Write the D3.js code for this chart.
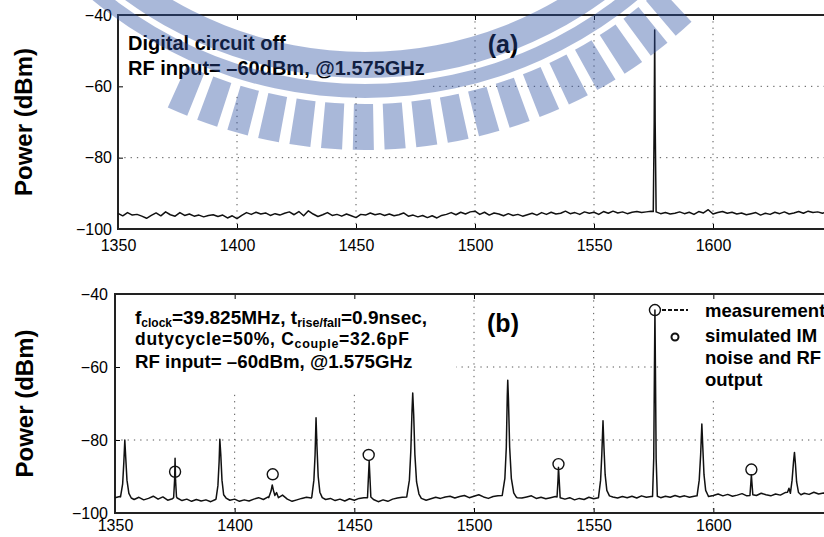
<!DOCTYPE html>
<meta charset="utf-8">

<!-- Load d3.js -->
<script src="https://d3js.org/d3.v7.min.js"></script>

<style>
  body { margin: 0; background: #fff; }
  svg { display: block; font-family: "Liberation Sans", Arial, Helvetica, sans-serif; }
</style>

<!-- Create a div where the graph will take place -->
<div id="my_dataviz"></div>

<script>
// axis ticks: frequency (MHz) and power (dBm)
var freqTicks = [1350, 1400, 1450, 1500, 1550, 1600];
var powerTicks = [-100, -80, -60, -40];

// noise floor, one sample every 2 MHz starting at 1350 MHz
var noiseStart = 1350, noiseStep = 2;

// (a) digital circuit off
var noiseA = [
  -95.6, -96.3, -95.4, -96.1, -95.9, -96.4, -97.0, -96.2, -95.5, -96.3,
  -95.2, -96.0, -96.4, -95.4, -96.2, -95.8, -96.4, -96.1, -96.6, -96.2,
  -96.0, -96.5, -96.1, -96.9, -96.3, -97.1, -96.2, -95.4, -95.9, -95.3,
  -95.8, -95.5, -96.2, -95.7, -96.1, -95.6, -95.2, -96.0, -95.1, -96.3,
  -94.9, -95.8, -96.5, -96.0, -95.4, -96.2, -95.9, -96.4, -95.8, -96.3,
  -96.8, -95.9, -96.1, -95.5, -96.0, -95.7, -96.2, -95.8, -96.3, -96.0,
  -95.5, -96.4, -96.1, -96.6, -96.2, -96.8, -96.3, -96.9, -96.2, -95.9,
  -95.4, -96.0, -95.3, -95.8, -95.2, -95.0, -95.9, -95.3, -96.1, -95.5,
  -95.8, -96.3, -95.7, -96.2, -95.9, -96.4, -96.0, -95.6, -96.1, -95.4,
  -95.9, -95.3, -95.8, -95.6, -95.0, -95.7, -95.4, -95.9, -95.2, -95.6,
  -95.3, -95.9, -95.1, -95.6, -95.0, -95.5, -95.2, -95.7, -95.3, -95.1,
  -95.4, -95.2, -95.0, -95.3, -95.7, -95.4, -95.8, -95.6, -95.2, -95.7,
  -95.3, -95.9, -95.1, -95.5, -94.6, -95.8, -95.4, -95.1, -95.6, -95.3,
  -95.8, -95.5, -96.0, -95.7, -95.4, -96.1, -95.6, -95.9, -95.3, -95.7,
  -95.2, -95.8, -95.5, -95.1, -95.6, -95.0, -95.4, -95.2, -95.6, -95.1,
  -95.4
];
// RF tone at 1.575 GHz
var peaksA = [
  [[1574.9, -95.1], [1575.3, -70], [1575.5, -44.2], [1575.7, -70], [1576.1, -95.2]]
];

// (b) digital circuit on
var noiseB = [
  -95.8, -95.5, -95.9, -96.0, -96.3, -95.7, -96.4, -96.0, -95.4, -96.2,
  -95.6, -96.5, -96.1, -95.9, -96.6, -96.2, -96.8, -96.3, -96.7, -96.4,
  -96.9, -96.3, -96.0, -95.8, -96.5, -96.2, -96.8, -96.4, -96.7, -96.2,
  -95.8, -96.3, -95.6, -95.4, -95.9, -95.1, -96.2, -96.8, -96.4, -96.0,
  -95.7, -95.9, -95.5, -95.8, -96.3, -96.0, -96.6, -96.2, -96.7, -96.1,
  -96.5, -96.0, -95.8, -95.6, -96.3, -96.9, -96.4, -96.8, -96.2, -95.9,
  -95.7, -95.5, -95.3, -95.6, -96.2, -96.5, -96.1, -95.7, -96.0, -95.6,
  -95.4, -95.9, -95.5, -95.2, -95.8, -95.4, -95.0, -95.6, -96.0, -95.5,
  -95.3, -95.1, -95.2, -95.4, -95.8, -95.9, -95.6, -95.3, -96.0, -95.7,
  -96.1, -95.8, -95.5, -95.6, -96.2, -95.8, -96.4, -96.0, -96.3, -95.7,
  -96.1, -95.6, -95.4, -95.2, -95.6, -95.9, -95.5, -95.8, -95.4, -95.9,
  -95.3, -95.7, -95.5, -95.3, -95.8, -95.4, -95.7, -95.2, -95.6, -95.3,
  -95.7, -95.4, -95.2, -95.0, -95.5, -95.2, -94.8, -95.3, -94.9, -95.4,
  -95.1, -94.7, -95.3, -95.0, -95.2, -94.6, -95.0, -95.3, -94.8, -95.1,
  -94.4, -94.9, -94.7, -95.2, -94.6, -94.9, -94.3, -94.8, -94.5, -94.9,
  -94.6
];
// clock harmonics, IM spurs and the RF tone
var peaksB = [
  [[1352.3, -95.6], [1353.2, -92], [1353.7, -86], [1354.1, -80], [1354.5, -85], [1355.0, -91], [1355.8, -94.6], [1356.8, -95.9]],
  [[1374.5, -95.8], [1374.9, -91], [1375.1, -85], [1375.3, -91], [1375.7, -95.6]],
  [[1392.2, -96.2], [1393.0, -92.5], [1393.5, -86], [1393.8, -79.8], [1394.2, -84], [1394.7, -91], [1395.4, -95.0], [1396.4, -95.9]],
  [[1414.2, -95.8], [1415.2, -94.0], [1415.7, -92.3], [1416.2, -93.8], [1416.8, -95.2], [1417.5, -94.4], [1418.3, -95.8]],
  [[1432.2, -95.7], [1433.1, -91], [1433.6, -84], [1434.0, -73.9], [1434.4, -82], [1434.9, -90], [1435.6, -94.3], [1436.6, -95.8]],
  [[1455.5, -95.8], [1455.9, -90], [1456.2, -85.8], [1456.5, -90], [1456.9, -95.6]],
  [[1471.9, -95.6], [1473.0, -91], [1473.6, -83], [1474.1, -72], [1474.4, -67.1], [1474.8, -73], [1475.3, -84], [1476.0, -91.5], [1477.0, -94.8], [1478.0, -96.0]],
  [[1511.8, -95.2], [1512.9, -90.5], [1513.5, -82], [1513.9, -68], [1514.1, -63.6], [1514.4, -69], [1514.9, -82], [1515.6, -90.5], [1516.6, -94.5], [1517.6, -95.6]],
  [[1534.7, -95.6], [1535.1, -91], [1535.3, -87.5], [1535.6, -91], [1536.0, -95.8]],
  [[1552.0, -95.8], [1552.9, -91], [1553.4, -84], [1553.9, -74.7], [1554.3, -82], [1554.8, -89.5], [1555.5, -93.8], [1556.6, -95.3]],
  [[1574.6, -95.5], [1575.1, -85], [1575.4, -60], [1575.6, -44.4], [1575.8, -60], [1576.1, -85], [1576.6, -95.4]],
  [[1593.2, -95.3], [1594.1, -91], [1594.7, -84], [1595.2, -75.6], [1595.6, -82], [1596.1, -89.5], [1596.8, -93.8], [1597.8, -95.2]],
  [[1615.3, -95.2], [1615.7, -91.5], [1615.9, -89.5], [1616.1, -91.5], [1616.5, -95.0]],
  [[1631.0, -94.3], [1631.6, -93.2], [1632.2, -94.6], [1632.9, -91], [1633.5, -86], [1633.9, -83.4], [1634.3, -86.5], [1634.8, -91.5], [1635.6, -94.4], [1636.6, -95.0]]
];

// simulated IM noise and RF output (circles)
var simFreq = [1375.1, 1415.9, 1456.0, 1535.3, 1575.6, 1615.9];
var simPower = [-88.7, -89.4, -84.1, -86.6, -44.4, -88.1];

var font = "Liberation Sans, Arial, Helvetica, sans-serif";

// append the svg object to the body of the page
var svg = d3.select("#my_dataviz")
  .append("svg")
    .attr("width", 824)
    .attr("height", 537);

// merge noise samples with the peak points
function buildTrace(noise, peaks) {
  var pts = noise.map(function(v, i) { return [noiseStart + i * noiseStep, v]; });
  peaks.forEach(function(pk) {
    var lo = pk[0][0], hi = pk[pk.length - 1][0];
    pts = pts.filter(function(p) { return p[0] < lo || p[0] > hi; });
    pts = pts.concat(pk);
  });
  return pts.sort(function(a, b) { return a[0] - b[0]; });
}

function drawPanel(p) {
  var x = d3.scaleLinear().domain([1350, 1650]).range([p.left, p.right]);
  var y = d3.scaleLinear().domain([-100, -40]).range([p.bottom, p.top]);
  var g = svg.append("g");

  // dotted grid
  g.selectAll(".vgrid")
    .data(freqTicks.slice(1))
    .enter()
    .append("line")
      .attr("x1", function(d) { return x(d); })
      .attr("x2", function(d) { return x(d); })
      .attr("y1", p.top)
      .attr("y2", p.bottom)
      .attr("stroke", "#555")
      .attr("stroke-dasharray", "1.3,5");
  g.selectAll(".hgrid")
    .data(powerTicks.slice(1, -1))
    .enter()
    .append("line")
      .attr("x1", p.left)
      .attr("x2", p.right)
      .attr("y1", function(d) { return y(d); })
      .attr("y2", function(d) { return y(d); })
      .attr("stroke", "#555")
      .attr("stroke-dasharray", "1.3,5");

  // white boxes behind the annotations hide the grid
  p.boxes.forEach(function(b) {
    g.append("rect")
      .attr("x", b[0]).attr("y", b[1])
      .attr("width", b[2]).attr("height", b[3])
      .attr("fill", "#fff");
  });

  // axes with inward ticks
  g.append("g")
    .attr("transform", "translate(0," + p.bottom + ")")
    .call(d3.axisBottom(x).tickValues(freqTicks).tickSize(-5).tickPadding(p.xPad).tickFormat(d3.format("d")))
    .attr("font-size", 16).attr("font-family", font)
    .call(function(a) { a.select(".domain").remove(); });
  g.append("g")
    .attr("transform", "translate(0," + p.top + ")")
    .call(d3.axisTop(x).tickValues(freqTicks).tickSize(-5).tickFormat(""))
    .call(function(a) { a.select(".domain").remove(); });
  g.append("g")
    .attr("transform", "translate(" + p.left + ",0)")
    .call(d3.axisLeft(y).tickValues(powerTicks).tickSize(-5).tickPadding(p.yPad))
    .attr("font-size", 16).attr("font-family", font)
    .call(function(a) { a.select(".domain").remove(); });

  // frame
  g.append("rect")
    .attr("x", p.left).attr("y", p.top)
    .attr("width", p.right - p.left).attr("height", p.bottom - p.top)
    .attr("fill", "none")
    .attr("stroke", "#222")
    .attr("stroke-width", 2);

  // spectrum trace
  g.append("path")
    .datum(p.trace)
    .attr("fill", "none")
    .attr("stroke", "#111")
    .attr("stroke-width", 1.5)
    .attr("stroke-linejoin", "round")
    .attr("d", d3.line()
      .x(function(d) { return x(d[0]); })
      .y(function(d) { return y(d[1]); }));

  // y label
  g.append("text")
    .attr("transform", "translate(" + p.labelX + "," + (p.top + p.bottom) / 2 + ")rotate(-90)")
    .attr("text-anchor", "middle")
    .attr("font-size", 24)
    .attr("font-weight", "bold")
    .text("Power (dBm)");

  return {g: g, x: x, y: y};
}

// ---------- panel (a)
var pa = drawPanel({
  left: 118, right: 832, top: 15, bottom: 229, xPad: 11, yPad: 6, labelX: 32,
  boxes: [[119, 16, 309, 76]],
  trace: buildTrace(noiseA, peaksA)
});

pa.g.append("text")
  .attr("x", 128).attr("y", 50)
  .attr("font-size", 20).attr("font-weight", "bold")
  .text("Digital circuit off");
pa.g.append("text")
  .attr("x", 128).attr("y", 75)
  .attr("font-size", 20).attr("font-weight", "bold")
  .text("RF input= \u201360dBm, @1.575GHz");
pa.g.append("text")
  .attr("x", 503).attr("y", 53)
  .attr("text-anchor", "middle")
  .attr("font-size", 25).attr("font-weight", "bold")
  .text("(a)");

// ---------- panel (b)
var pb = drawPanel({
  left: 115, right: 833, top: 294, bottom: 513, xPad: 7, yPad: 7, labelX: 33,
  boxes: [[116, 295, 340, 97], [660, 295, 164, 103]],
  trace: buildTrace(noiseB, peaksB)
});

// simulated IM noise circles
pb.g.selectAll(".sim")
  .data(simFreq)
  .enter()
  .append("circle")
    .attr("cx", function(d) { return pb.x(d); })
    .attr("cy", function(d, i) { return pb.y(simPower[i]); })
    .attr("r", 5.5)
    .attr("fill", "none")
    .attr("stroke", "#111")
    .attr("stroke-width", 1.4);

var l1 = pb.g.append("text")
  .attr("x", 135).attr("y", 324)
  .attr("font-size", 19).attr("font-weight", "bold");
l1.append("tspan").text("f");
l1.append("tspan").attr("dy", 3).attr("font-size", 12).text("clock");
l1.append("tspan").attr("dy", -3).text("=39.825MHz, t");
l1.append("tspan").attr("dy", 3).attr("font-size", 12.5).text("rise/fall");
l1.append("tspan").attr("dy", -3).text("=0.9nsec,");

var l2 = pb.g.append("text")
  .attr("x", 135).attr("y", 345)
  .attr("font-size", 17.5).attr("font-weight", "bold")
  .attr("letter-spacing", 0.7);
l2.append("tspan").text("dutycycle=50%, C");
l2.append("tspan").attr("dy", 3).attr("font-size", 12.5).text("couple");
l2.append("tspan").attr("dy", -3).text("=32.6pF");

pb.g.append("text")
  .attr("x", 135).attr("y", 368)
  .attr("font-size", 18.7).attr("font-weight", "bold")
  .text("RF input= \u201360dBm, @1.575GHz");

pb.g.append("text")
  .attr("x", 503).attr("y", 332)
  .attr("text-anchor", "middle")
  .attr("font-size", 25).attr("font-weight", "bold")
  .text("(b)");

// legend
pb.g.append("line")
  .attr("x1", 662).attr("x2", 688)
  .attr("y1", 310).attr("y2", 310)
  .attr("stroke", "#111")
  .attr("stroke-width", 1.8)
  .attr("stroke-dasharray", "4,2");
pb.g.append("circle")
  .attr("cx", 675).attr("cy", 337).attr("r", 3.5)
  .attr("fill", "none")
  .attr("stroke", "#111")
  .attr("stroke-width", 2);
var legendLines = ["measurement", "simulated IM", "noise and RF", "output"];
var legendY = [317, 342, 364, 386];
pb.g.selectAll(".leg")
  .data(legendLines)
  .enter()
  .append("text")
    .attr("x", 705)
    .attr("y", function(d, i) { return legendY[i]; })
    .attr("font-size", 18.5)
    .attr("font-weight", "bold")
    .text(function(d) { return d; });

// ---------- watermark over panel (a)
var wm = svg.append("g")
  .attr("transform", "translate(365,-330)")
  .attr("fill", "#2b4fa3")
  .attr("opacity", 0.4);
var arc = d3.arc();
wm.append("path").attr("d", arc({innerRadius: 382, outerRadius: 408, startAngle: Math.PI - 0.75, endAngle: Math.PI + 0.75}));
wm.append("path").attr("d", arc({innerRadius: 414, outerRadius: 428, startAngle: Math.PI - 0.85, endAngle: Math.PI + 0.85}));
d3.range(-23, 42, 3.8).forEach(function(t) {
  var a = Math.PI - t * Math.PI / 180;
  wm.append("path").attr("d", arc({innerRadius: 434, outerRadius: 480, startAngle: a - 0.022, endAngle: a + 0.022}));
});
</script>
